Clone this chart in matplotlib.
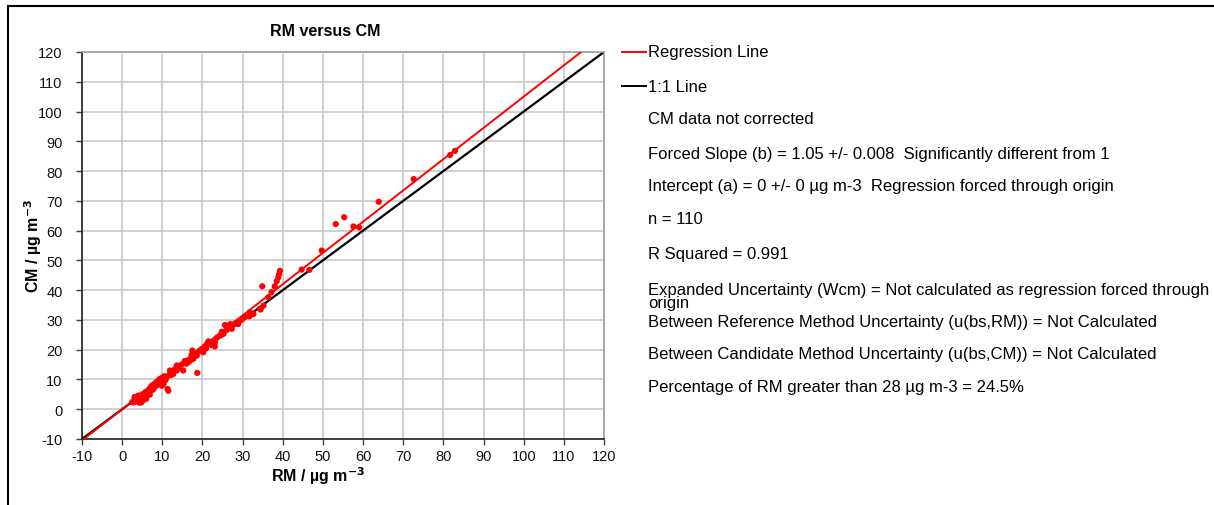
import matplotlib
matplotlib.use("Agg")
import matplotlib.pyplot as plt
from matplotlib.lines import Line2D
import numpy as np

plt.rcParams["font.family"] = ["Liberation Sans", "DejaVu Sans"]
plt.rcParams["axes.unicode_minus"] = False

# paired daily results: reference method (RM) vs candidate method (CM), ug m-3
rm = [2.5, 2.8, 3.0, 3.3, 3.6, 4.0, 4.0, 4.3, 4.6, 4.8,
      5.0, 5.2, 5.3, 5.6, 5.8, 6.0, 6.2, 6.5, 6.6, 6.9,
      7.1, 7.4, 7.6, 7.9, 8.2, 8.5, 8.8, 9.1, 9.4, 9.6,
      9.9, 10.0, 10.3, 10.5, 10.8, 11.1, 11.3, 11.5, 11.9, 12.2,
      12.7, 13.1, 13.6, 13.6, 14.2, 14.8, 15.2, 15.6, 16.0, 16.5,
      16.9, 17.3, 17.5, 17.7, 18.0, 18.6, 18.7, 19.2, 19.8, 20.2,
      20.5, 21.1, 21.5, 21.9, 22.3, 23.1, 23.1, 23.6, 24.4, 24.8,
      25.2, 25.6, 26.0, 26.4, 26.9, 27.3, 28.1, 28.9, 29.4, 29.8,
      30.6, 31.7, 31.8, 32.7, 34.3, 34.5, 34.9, 35.2, 36.4, 37.2,
      38.0, 38.5, 38.9, 39.1, 39.3, 44.7, 46.6, 49.7, 53.2, 55.3,
      57.6, 59.0, 63.9, 72.6, 81.7, 82.9, 3.1, 7.8, 12.0, 20.9]
cm = [2.4, 2.3, 3.0, 2.6, 3.4, 3.2, 4.6, 2.2, 3.8, 2.3,
      5.0, 3.0, 4.6, 4.0, 5.8, 3.5, 5.2, 5.7, 6.6, 4.9,
      7.4, 7.9, 6.5, 8.4, 7.6, 9.1, 8.2, 9.7, 10.2, 8.9,
      7.9, 10.6, 8.5, 11.1, 9.8, 10.7, 6.8, 6.2, 13.0, 11.5,
      11.8, 13.4, 13.0, 14.7, 13.9, 15.0, 13.0, 16.2, 15.3, 15.8,
      16.3, 18.3, 19.7, 16.9, 18.9, 18.0, 12.2, 19.6, 20.2, 19.1,
      21.0, 21.9, 22.8, 22.5, 21.5, 22.5, 21.1, 24.0, 24.7, 26.0,
      25.3, 28.3, 26.6, 27.5, 28.6, 27.0, 28.8, 28.6, 29.8, 30.1,
      31.0, 31.2, 32.6, 32.0, 33.7, 33.5, 41.3, 34.8, 37.6, 39.3,
      41.3, 43.0, 44.3, 45.4, 46.5, 46.9, 46.8, 53.3, 62.2, 64.5,
      61.4, 61.1, 69.7, 77.3, 85.4, 86.8, 4.1, 6.9, 12.5, 20.4]

slope = 1.05
ticks = list(range(-10, 121, 10))

stats_lines = [
    "CM data not corrected",
    "Forced Slope (b) = 1.05 +/- 0.008  Significantly different from 1",
    "Intercept (a) = 0 +/- 0 \u00b5g m-3  Regression forced through origin",
    "n = 110",
    "R Squared = 0.991",
    "Expanded Uncertainty (Wcm) = Not calculated as regression forced through\norigin",
    "Between Reference Method Uncertainty (u(bs,RM)) = Not Calculated",
    "Between Candidate Method Uncertainty (u(bs,CM)) = Not Calculated",
    "Percentage of RM greater than 28 \u00b5g m-3 = 24.5%",
]
stats_y = [120, 154, 187, 220, 254, 297, 322, 355, 388]  # pixel rows from top

W, H = 1214, 506
fig = plt.figure(figsize=(W / 100, H / 100), dpi=100)
ax = fig.add_axes([82 / W, 1 - 440 / H, 522 / W, 387 / H])

line_x = np.array([-10, 120])
ax.plot(line_x, line_x, color="black", lw=1.6, zorder=2)
ax.plot(line_x, slope * line_x, color="#ff0000", lw=1.4, zorder=3)
ax.scatter(rm, cm, s=20, color="#ff0000", edgecolors="none", zorder=4)

ax.set_xlim(-10, 120)
ax.set_ylim(-10, 120)
ax.set_xticks(ticks)
ax.set_yticks(ticks)
ax.grid(True, color="#c8c8c8", lw=1.2)
ax.set_axisbelow(True)
ax.tick_params(labelsize=10.5, length=4, width=1, color="#404040", labelcolor="#111111", pad=3)
ax.tick_params(axis="y", pad=10)
for side in ("left", "bottom"):
    ax.spines[side].set_color("#202020")
    ax.spines[side].set_linewidth(1.2)
for side in ("top", "right"):
    ax.spines[side].set_color("#a0a0a0")
    ax.spines[side].set_linewidth(1.2)

fig.text(325 / W, 1 - 31 / H, "RM versus CM", ha="center", va="center",
         fontsize=11.5, fontweight="bold")
fig.text(318 / W, 1 - 476 / H, "RM / \u00b5g m$^{\\mathbf{-3}}$", ha="center",
         va="center", fontsize=11.5, fontweight="bold")
fig.text(33 / W, 1 - 246 / H, "CM / \u00b5g m$^{\\mathbf{-3}}$", ha="center",
         va="center", rotation=90, fontsize=11.5, fontweight="bold")

# legend entries drawn by hand on the right
for yy, col, lab in [(53, "#ff0000", "Regression Line"), (87, "black", "1:1 Line")]:
    fig.add_artist(Line2D([622 / W, 646 / W], [1 - yy / H, 1 - yy / H], color=col, lw=1.4))
    fig.text(648 / W, 1 - yy / H, lab, ha="left", va="center", fontsize=12)

for yy, txt in zip(stats_y, stats_lines):
    fig.text(648 / W, 1 - yy / H, txt, ha="left", va="center", fontsize=12, linespacing=0.85)

# outer chart frame
fig.add_artist(Line2D([8 / W, 8 / W], [0, 1 - 7 / H], color="black", lw=1.5))
fig.add_artist(Line2D([8 / W, 1], [1 - 7 / H, 1 - 7 / H], color="black", lw=1.5))

fig.savefig("out.png", dpi=100)
